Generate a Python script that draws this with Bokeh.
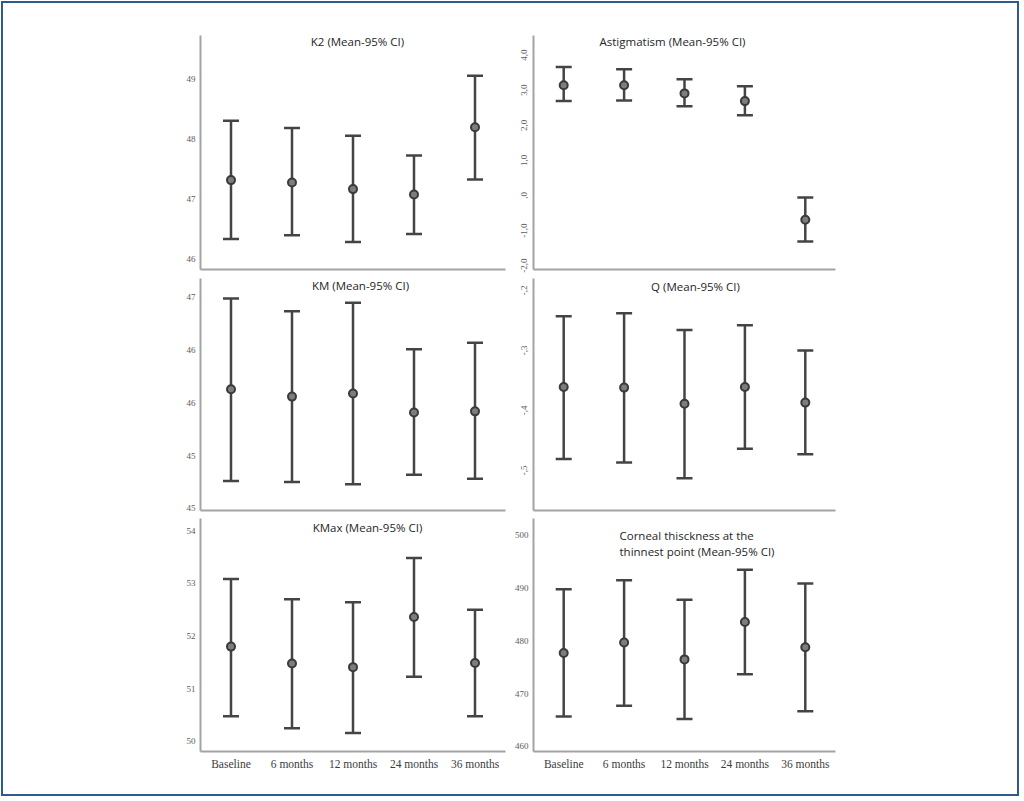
from bokeh.plotting import figure
from bokeh.models import ColumnDataSource, Whisker, TeeHead, Label, FixedTicker, Range1d, Div
from bokeh.layouts import column, row
from bokeh.embed import file_html
from bokeh.resources import INLINE

categories = ["Baseline", "6 months", "12 months", "24 months", "36 months"]

# K2
k2_mean = [47.31, 47.27, 47.16, 47.07, 48.19]
k2_low = [46.33, 46.39, 46.28, 46.41, 47.32]
k2_high = [48.30, 48.18, 48.05, 47.72, 49.05]
k2_ticks = [46, 47, 48, 49]
k2_tick_labels = ["46", "47", "48", "49"]

# Astigmatism
ast_mean = [3.14, 3.14, 2.91, 2.69, -0.69]
ast_low = [2.69, 2.71, 2.54, 2.29, -1.31]
ast_high = [3.66, 3.60, 3.31, 3.11, -0.06]
ast_ticks = [-2, -1, 0, 1, 2, 3, 4]
ast_tick_labels = ["-2,0", "-1,0", ",0", "1,0", "2,0", "3,0", "4,0"]

# KM
km_mean = [46.13, 46.06, 46.09, 45.91, 45.92]
km_low = [45.26, 45.25, 45.23, 45.32, 45.28]
km_high = [46.99, 46.87, 46.95, 46.51, 46.57]
km_ticks = [45.0, 45.5, 46.0, 46.5, 47.0]
km_tick_labels = ["45", "45", "46", "46", "47"]

# Q
q_mean = [-0.361, -0.362, -0.389, -0.361, -0.387]
q_low = [-0.481, -0.487, -0.513, -0.464, -0.473]
q_high = [-0.243, -0.238, -0.266, -0.258, -0.300]
q_ticks = [-0.5, -0.4, -0.3, -0.2]
q_tick_labels = ["-,5", "-,4", "-,3", "-,2"]

# KMax
kmax_mean = [51.80, 51.48, 51.41, 52.36, 51.49]
kmax_low = [50.48, 50.25, 50.16, 51.23, 50.48]
kmax_high = [53.08, 52.70, 52.64, 53.48, 52.50]
kmax_ticks = [50, 51, 52, 53, 54]
kmax_tick_labels = ["50", "51", "52", "53", "54"]

# Corneal thickness
ct_mean = [477.7, 479.7, 476.5, 483.6, 478.8]
ct_low = [465.7, 467.7, 465.2, 473.7, 466.7]
ct_high = [489.8, 491.5, 487.8, 493.5, 490.9]
ct_ticks = [460, 470, 480, 490, 500]
ct_tick_labels = ["460", "470", "480", "490", "500"]

AXIS_COLOR = "#a3a3a3"
BAR_COLOR = "#444444"
TITLE_FONT = "Open Sans"
SERIF = "Liberation Serif"

# layout geometry
LEFT_W, RIGHT_W = 511, 513
ROWS = [  # (height, top border, frame height)
    (273, 35, 234),
    (240, 5, 232),
    (288, 5, 233),
]


def panel(col, r, title, mean, low, high, y0, y1, ticks, tick_labels,
          rotate=False, show_x=False, tx=150, ty=0, align="center"):
    h, top, fh = ROWS[r]
    if col == 0:
        w, bl, br = LEFT_W, 200, 6
    else:
        w, bl, br = RIGHT_W, 22, 189
    p = figure(x_range=categories, y_range=Range1d(y0, y1), width=w, height=h,
               min_border_left=bl, min_border_right=br, min_border_top=top,
               min_border_bottom=h - top - fh, output_backend="svg",
               toolbar_location=None, background_fill_color="white",
               border_fill_color="white")
    p.outline_line_color = None
    p.grid.visible = False
    p.x_range.range_padding = 0

    yax = p.yaxis[0]
    yax.ticker = FixedTicker(ticks=ticks)
    yax.major_label_overrides = {t: l for t, l in zip(ticks, tick_labels)}
    yax.axis_line_color = AXIS_COLOR
    yax.axis_line_width = 2
    yax.major_tick_line_color = None
    yax.minor_tick_line_color = None
    yax.major_tick_out = 0
    yax.major_tick_in = 0
    yax.major_label_text_font = SERIF
    yax.major_label_text_font_size = "9px"
    yax.major_label_text_color = "#5c5c5c"
    yax.major_label_standoff = 6 if rotate else 5
    if rotate:
        yax.major_label_orientation = "vertical"

    xax = p.xaxis[0]
    xax.axis_line_color = AXIS_COLOR
    xax.axis_line_width = 2
    xax.major_tick_line_color = None
    xax.minor_tick_line_color = None
    xax.major_tick_out = 0
    xax.major_tick_in = 0
    if show_x:
        xax.major_label_text_font = SERIF
        xax.major_label_text_font_size = "11.5px"
        xax.major_label_text_color = "#3c3c3c"
        xax.major_label_standoff = 6
    else:
        xax.ticker = FixedTicker(ticks=[])
        xax.major_label_standoff = 0

    src = ColumnDataSource(dict(x=categories, mean=mean, low=low, high=high))
    wh = Whisker(source=src, base="x", upper="high", lower="low",
                 line_color=BAR_COLOR, line_width=2.5,
                 upper_head=TeeHead(size=16, line_color=BAR_COLOR, line_width=2.5),
                 lower_head=TeeHead(size=16, line_color=BAR_COLOR, line_width=2.5))
    p.add_layout(wh)
    p.scatter("x", "mean", source=src, size=8, fill_color="#7d7d7d",
              line_color="#3a3a3a", line_width=2)

    lab = Label(x=tx, y=fh - ty, x_units="screen", y_units="screen", text=title,
                text_font=TITLE_FONT, text_font_size="11.5px", text_color="#262626",
                text_align=align, text_baseline="middle" if align == "center" else "top",
                text_line_height=1.1, level="overlay")
    p.add_layout(lab)
    return p


p1 = panel(0, 0, "K2 (Mean-95% CI)", k2_mean, k2_low, k2_high, 45.82, 49.72,
           k2_ticks, k2_tick_labels, tx=157, ty=6)
p2 = panel(1, 0, "Astigmatism (Mean-95% CI)", ast_mean, ast_low, ast_high, -2.11, 4.56,
           ast_ticks, ast_tick_labels, rotate=True, tx=139, ty=6)
p3 = panel(0, 1, "KM (Mean-95% CI)", km_mean, km_low, km_high, 44.98, 47.18,
           km_ticks, km_tick_labels, tx=160, ty=7)
p4 = panel(1, 1, "Q (Mean-95% CI)", q_mean, q_low, q_high, -0.567, -0.18,
           q_ticks, q_tick_labels, rotate=True, tx=162, ty=8)
p5 = panel(0, 2, "KMax (Mean-95% CI)", kmax_mean, kmax_low, kmax_high, 49.81, 54.23,
           kmax_ticks, kmax_tick_labels, show_x=True, tx=167, ty=9)
p6 = panel(1, 2, "Corneal thisckness at the\nthinnest point (Mean-95% CI)", ct_mean, ct_low,
           ct_high, 459.05, 503.2, ct_ticks, ct_tick_labels, show_x=True, tx=86, ty=9,
           align="left")

frame_box = Div(text='<div style="position:fixed;left:1px;top:1px;width:1018px;'
                     'height:795px;border:2px solid #2e5c8a;pointer-events:none;'
                     'z-index:10;"></div>', width=0, height=0)

layout = column(row(p1, p2), row(p3, p4), row(p5, p6), frame_box)

open("out.html", "w").write(file_html(layout, INLINE))
